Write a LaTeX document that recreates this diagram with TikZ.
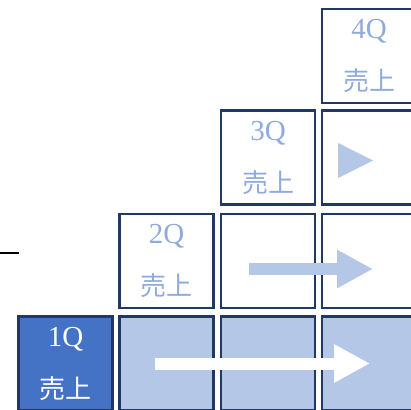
\documentclass[tikz,border=0pt]{standalone}
\usepackage{fontspec}
\setmainfont{Liberation Serif}
\newfontfamily\jpfont{Noto Sans CJK JP}
\usepackage{xcolor}
\usepackage{tikz}
\usetikzlibrary{arrows.meta,positioning}
\definecolor{cellline}{HTML}{203864}
\definecolor{qdark}{HTML}{4472C4}
\definecolor{qlight}{HTML}{B4C7E7}
\definecolor{qtext}{HTML}{8FAADC}

\newcommand{\qlabel}[1]{#1\\{\jpfont\fontsize{26}{52}\selectfont 売上}}

\tikzset{
  cell/.style={rectangle, draw=cellline, line width=2.8pt, minimum size=94pt, inner sep=0pt,
    align=center, font=\fontsize{29}{52}\selectfont},
  flow/.style={line width=12pt, -{Triangle[length=36pt,width=36pt]}}
}

\begin{document}
\begin{tikzpicture}[x=1pt, y=-1pt]
        \useasboundingbox (0,0) rectangle (411,409);

        % First quarter row
        \node[cell, fill=qdark, text=white] (q1) at (65.5,363.5) {\qlabel{1Q}};
        \node[cell, fill=qlight] (r1b) at (166.5,363.5) {};
        \node[cell, fill=qlight] (r1c) at (268,363.5) {};
        \node[cell, fill=qlight] (r1d) at (369,363.5) {};

        % Second quarter row
        \node[cell, fill=white, text=qtext] (q2) at (166.5,261) {\qlabel{2Q}};
        \node[cell, fill=white] (r2c) at (268,261) {};
        \node[cell, fill=white] (r2d) at (369,261) {};

        % Third quarter row
        \node[cell, fill=white, text=qtext] (q3) at (268,157.5) {\qlabel{3Q}};
        \node[cell, fill=white] (r3d) at (369,157.5) {};

        % Fourth quarter
        \node[cell, fill=white, text=qtext] (q4) at (369,56) {\qlabel{4Q}};

        % Arrows
        \draw[flow, white] ([xshift=-11.5pt]r1b.center) -- ([xshift=1pt]r1d.center);
        \draw[flow, qlight] ([xshift=-19pt, yshift=-8pt]r2c.center) -- ([xshift=4pt, yshift=-8pt]r2d.center);
        \fill[qlight] (338,143) -- (373,160.5) -- (338,178) -- cycle;

        % Left tick
        \draw[line width=1.2pt, black] (0,253) -- (19,253);
    \end{tikzpicture}
\end{document}
